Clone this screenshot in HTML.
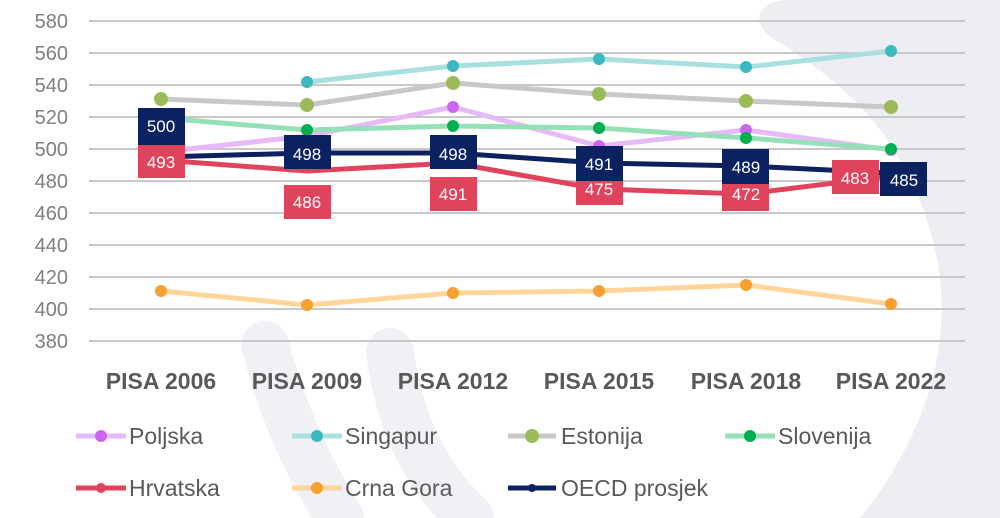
<!DOCTYPE html>
<html><head><meta charset="utf-8"><style>
body{margin:0;background:#fff;}
svg{display:block;font-family:"Liberation Sans",sans-serif;}
</style></head><body>
<svg width="1000" height="518" viewBox="0 0 1000 518" xmlns="http://www.w3.org/2000/svg">
<path d="M790,0 L1000,0 L1000,518 L860,518 C930,430 960,330 930,230 C900,130 840,80 775,40 C750,25 755,0 790,0 Z" fill="#eceef3"/>
<path d="M265,345 C285,420 310,470 340,518" stroke="#f0f1f5" stroke-width="48" fill="none" stroke-linecap="round"/>
<path d="M390,352 C400,430 430,480 470,518" stroke="#f0f1f5" stroke-width="48" fill="none" stroke-linecap="round"/>
<g stroke="#c8c8c8" stroke-width="2">
<line x1="89" x2="965" y1="21" y2="21"/><line x1="89" x2="965" y1="53" y2="53"/>
<line x1="89" x2="965" y1="85" y2="85"/><line x1="89" x2="965" y1="117" y2="117"/>
<line x1="89" x2="965" y1="149" y2="149"/><line x1="89" x2="965" y1="181" y2="181"/>
<line x1="89" x2="965" y1="213" y2="213"/><line x1="89" x2="965" y1="245" y2="245"/>
<line x1="89" x2="965" y1="277" y2="277"/><line x1="89" x2="965" y1="309" y2="309"/>
<line x1="89" x2="965" y1="341" y2="341"/>
</g>
<g fill="#7f7f7f" font-size="20" text-anchor="end">
<text x="68" y="28">580</text><text x="68" y="60">560</text><text x="68" y="92">540</text>
<text x="68" y="124">520</text><text x="68" y="156">500</text><text x="68" y="188">480</text>
<text x="68" y="220">460</text><text x="68" y="252">440</text><text x="68" y="284">420</text>
<text x="68" y="316">400</text><text x="68" y="348">380</text>
</g>
<g fill="#595959" font-size="23" font-weight="bold" text-anchor="middle">
<text x="161" y="389">PISA 2006</text><text x="307" y="389">PISA 2009</text>
<text x="453" y="389">PISA 2012</text><text x="599" y="389">PISA 2015</text>
<text x="746" y="389">PISA 2018</text><text x="891" y="389">PISA 2022</text>
</g>
<g fill="none" stroke-width="5" stroke-linejoin="round">
<polyline stroke="#ffd59a" points="161,291 307,305 453,293 599,291 746,285 891,304"/>
<polyline stroke="#c8c8c8" points="161,99 307,105 453,83 599,94 746,101 891,107"/>
<polyline stroke="#a8e0e0" points="307,82 453,66 599,59 746,67 891,51"/>
<polyline stroke="#e6baf8" points="161,152 307,136 453,107 599,146 746,130 891,150"/>
<polyline stroke="#96e0b8" points="161,118 307,130 453,126 599,128 746,138 891,149"/>
<polyline stroke="#e0445c" points="161,160 307,171 453,163 599,189 746,194 891,176"/>
<polyline stroke="#0b2160" points="161,157 307,153 453,153 599,163 746,166 891,173"/>
</g>
<g fill="#f5a030"><circle cx="161" cy="291" r="6"/><circle cx="307" cy="305" r="6"/><circle cx="453" cy="293" r="6"/><circle cx="599" cy="291" r="6"/><circle cx="746" cy="285" r="6"/><circle cx="891" cy="304" r="6"/></g>
<g fill="#9bbb59"><circle cx="161" cy="99" r="7"/><circle cx="307" cy="105" r="7"/><circle cx="453" cy="83" r="7"/><circle cx="599" cy="94" r="7"/><circle cx="746" cy="101" r="7"/><circle cx="891" cy="107" r="7"/></g>
<g fill="#3bb8c0"><circle cx="307" cy="82" r="6"/><circle cx="453" cy="66" r="6"/><circle cx="599" cy="59" r="6"/><circle cx="746" cy="67" r="6"/><circle cx="891" cy="51" r="6"/></g>
<g fill="#cc66ee"><circle cx="453" cy="107" r="6"/><circle cx="599" cy="146" r="6"/><circle cx="746" cy="130" r="6"/><circle cx="891" cy="150" r="6"/></g>
<g fill="#00b050"><circle cx="307" cy="130" r="6"/><circle cx="453" cy="126" r="6"/><circle cx="599" cy="128" r="6"/><circle cx="746" cy="138" r="6"/><circle cx="891" cy="149" r="6"/></g>
<g font-size="17" fill="#fff" text-anchor="middle">
<rect x="138" y="145" width="47" height="33" fill="#e0445c"/><text x="161" y="168">493</text>
<rect x="284" y="185" width="47" height="34" fill="#e0445c"/><text x="307" y="208">486</text>
<rect x="430" y="177" width="47" height="34" fill="#e0445c"/><text x="453" y="200">491</text>
<rect x="576" y="172" width="47" height="33" fill="#e0445c"/><text x="599" y="195">475</text>
<rect x="722" y="177" width="47" height="34" fill="#e0445c"/><text x="746" y="200">472</text>
<rect x="832" y="160" width="47" height="34" fill="#e0445c"/><text x="855" y="184">483</text>
<rect x="138" y="108" width="47" height="37" fill="#0b2160"/><text x="161" y="132">500</text>
<rect x="284" y="135" width="47" height="34" fill="#0b2160"/><text x="307" y="160">498</text>
<rect x="430" y="135" width="47" height="34" fill="#0b2160"/><text x="453" y="160">498</text>
<rect x="576" y="146" width="47" height="35" fill="#0b2160"/><text x="599" y="170">491</text>
<rect x="722" y="149" width="47" height="35" fill="#0b2160"/><text x="746" y="173">489</text>
<rect x="880" y="162" width="47" height="34" fill="#0b2160"/><text x="904" y="186">485</text>
</g>
<g stroke-width="5">
<line x1="76" x2="126" y1="436" y2="436" stroke="#e6baf8"/>
<line x1="292" x2="342" y1="436" y2="436" stroke="#a8e0e0"/>
<line x1="508" x2="556" y1="436" y2="436" stroke="#c8c8c8"/>
<line x1="725" x2="775" y1="436" y2="436" stroke="#96e0b8"/>
<line x1="76" x2="126" y1="488" y2="488" stroke="#e0445c"/>
<line x1="292" x2="342" y1="488" y2="488" stroke="#ffd59a"/>
<line x1="508" x2="556" y1="488" y2="488" stroke="#0b2160"/>
</g>
<circle cx="101" cy="436" r="6" fill="#cc66ee"/><circle cx="317" cy="436" r="6" fill="#3bb8c0"/>
<circle cx="532" cy="436" r="7" fill="#9bbb59"/><circle cx="750" cy="436" r="6" fill="#00b050"/>
<circle cx="101" cy="488" r="5" fill="#e0445c"/><circle cx="317" cy="488" r="6" fill="#f5a030"/>
<circle cx="532" cy="488" r="4" fill="#0b2160"/>
<g fill="#595959" font-size="23">
<text x="129" y="444">Poljska</text><text x="345" y="444">Singapur</text>
<text x="561" y="444">Estonija</text><text x="778" y="444">Slovenija</text>
<text x="129" y="496">Hrvatska</text><text x="345" y="496">Crna Gora</text>
<text x="561" y="496">OECD prosjek</text>
</g>
</svg>
</body></html>
